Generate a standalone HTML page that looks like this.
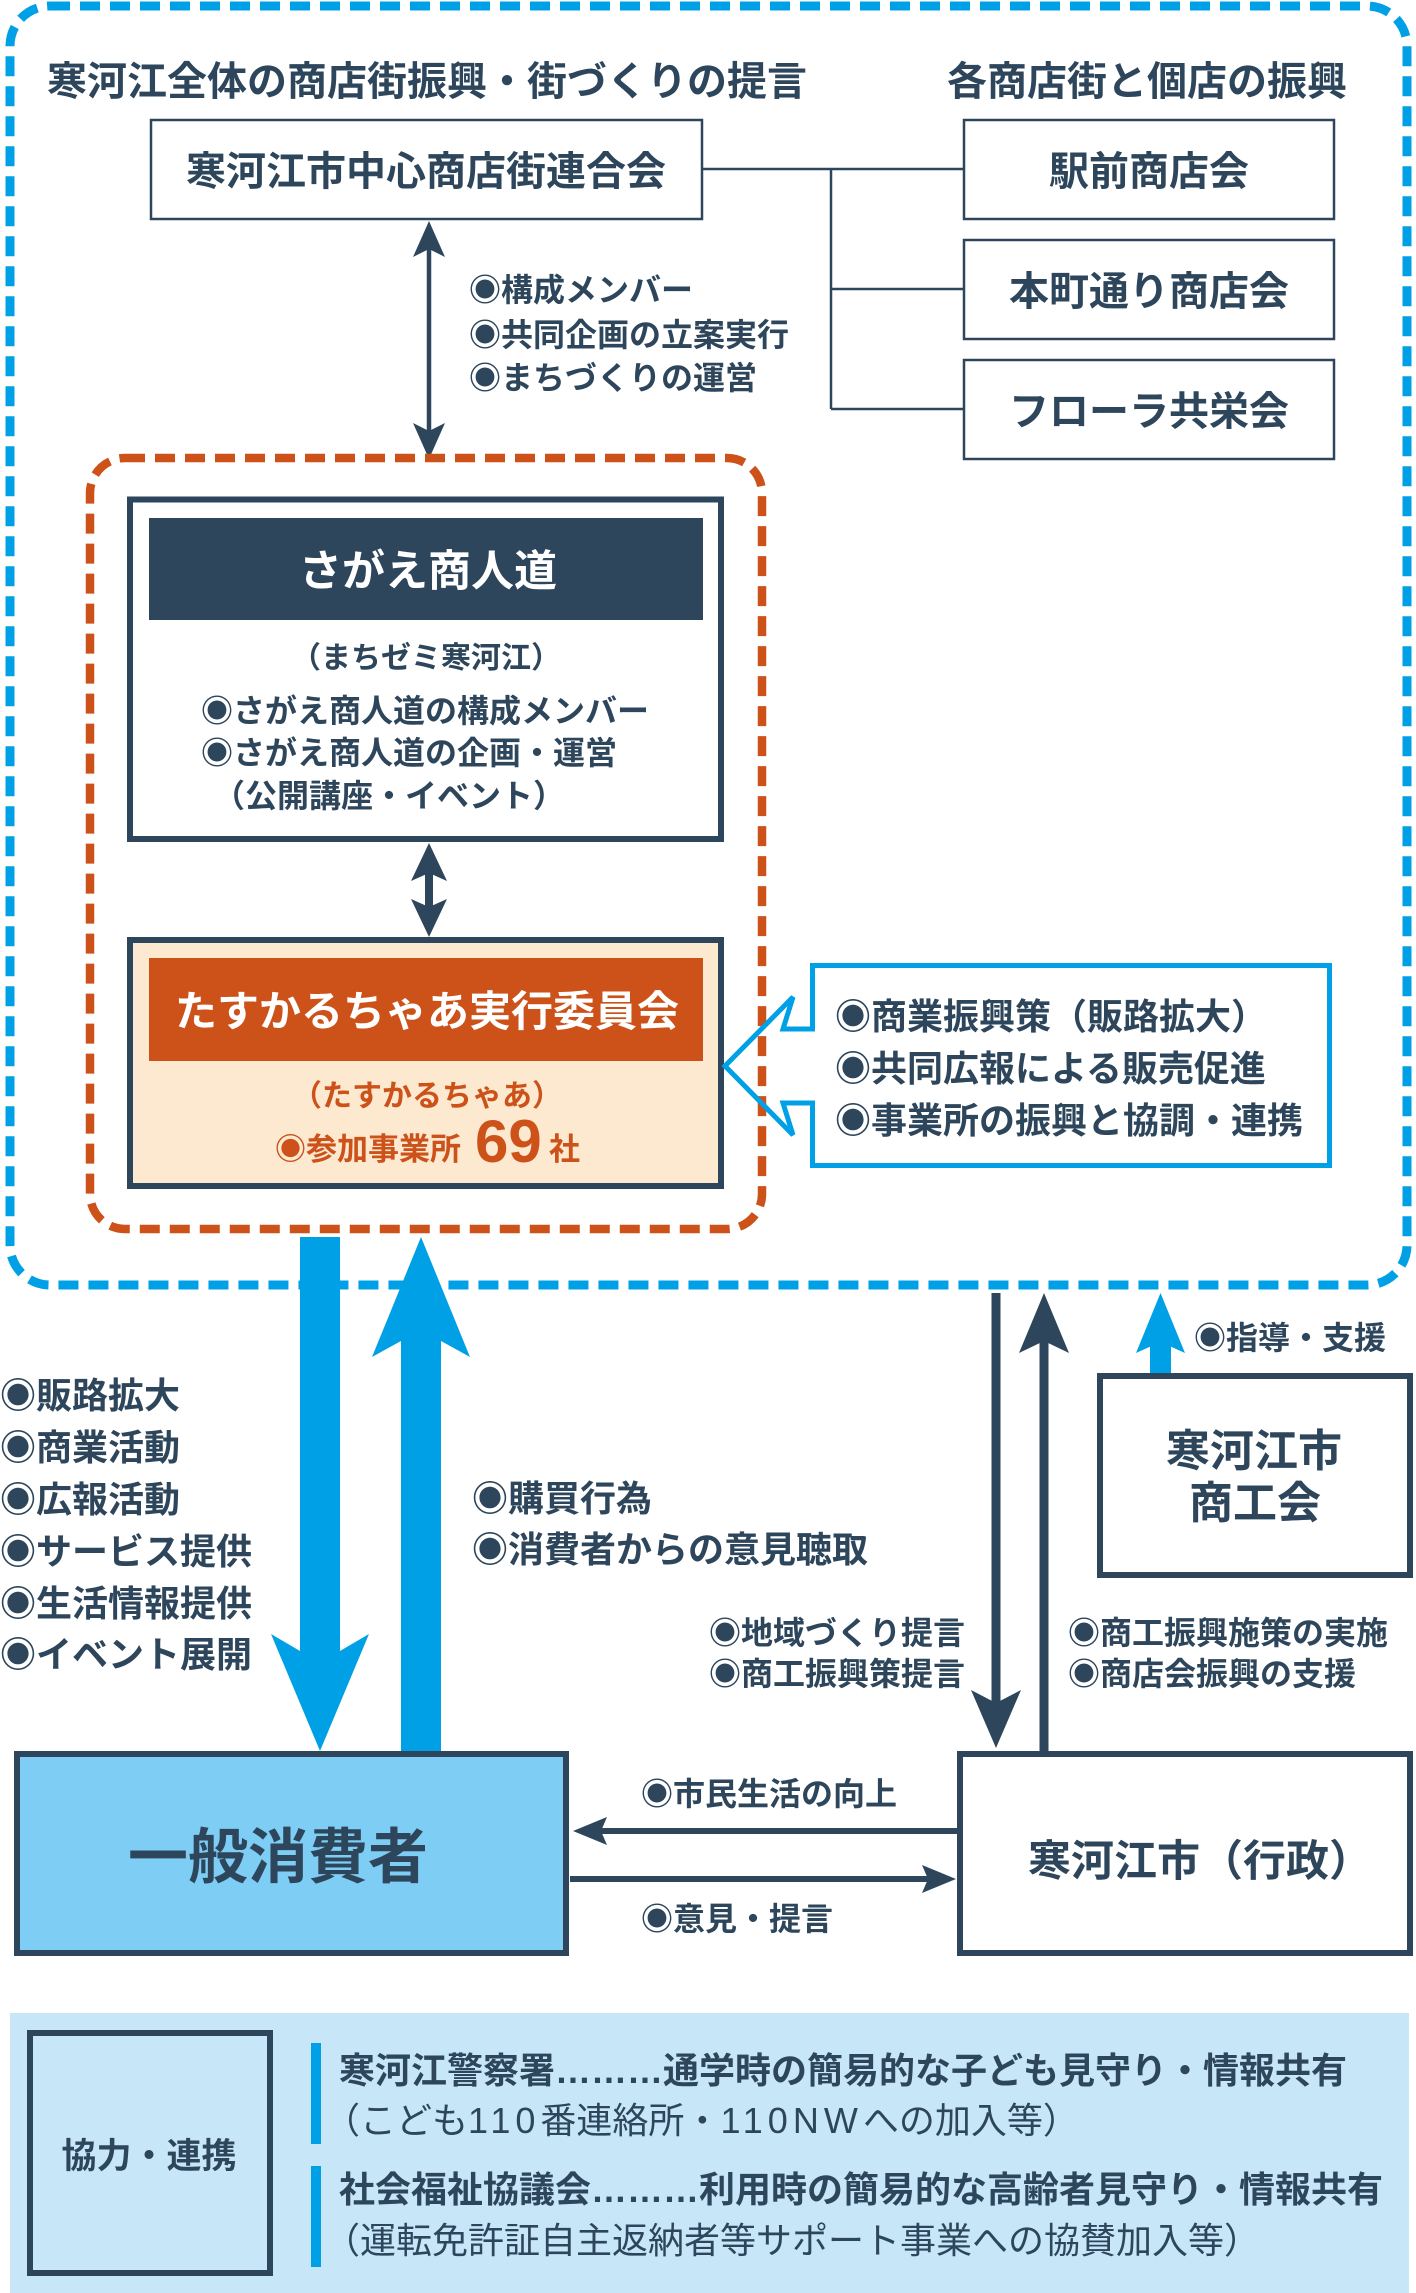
<!DOCTYPE html>
<html><head><meta charset="utf-8">
<style>
html,body{margin:0;padding:0;background:#fff;width:1416px;height:2293px;overflow:hidden}
svg{display:block}
text{font-family:"Liberation Sans","Noto Sans CJK JP",sans-serif;font-weight:bold;fill:#2e465b}
.w{fill:#fff}
.o{fill:#cc521a}
.r{font-weight:normal}
</style></head>
<body>
<svg width="1416" height="2293" viewBox="0 0 1416 2293" xmlns="http://www.w3.org/2000/svg">
<!-- outer blue dashed -->
<rect x="10" y="6" width="1397" height="1279" rx="40" fill="none" stroke="#00a0e6" stroke-width="9" stroke-dasharray="20 10"/>

<!-- headings -->
<text x="47" y="95" font-size="40">寒河江全体の商店街振興・街づくりの提言</text>
<text x="947" y="95" font-size="40">各商店街と個店の振興</text>

<!-- top boxes -->
<rect x="151" y="120" width="551" height="99" fill="#fff" stroke="#2e465b" stroke-width="2.5"/>
<text x="426" y="185" font-size="40" text-anchor="middle">寒河江市中心商店街連合会</text>
<rect x="964" y="120" width="370" height="99" fill="#fff" stroke="#2e465b" stroke-width="2.5"/>
<rect x="964" y="240" width="370" height="99" fill="#fff" stroke="#2e465b" stroke-width="2.5"/>
<rect x="964" y="360" width="370" height="99" fill="#fff" stroke="#2e465b" stroke-width="2.5"/>
<text x="1149" y="185" font-size="40" text-anchor="middle">駅前商店会</text>
<text x="1149" y="305" font-size="40" text-anchor="middle">本町通り商店会</text>
<text x="1149" y="425" font-size="40" text-anchor="middle">フローラ共栄会</text>
<path d="M702 169 H964 M831 169 V409 M831 289 H964 M831 409 H964" fill="none" stroke="#2e465b" stroke-width="2.5"/>

<!-- double arrow top -->
<line x1="429" y1="245" x2="429" y2="435" stroke="#2e465b" stroke-width="4.5"/>
<polygon points="429,221 445,257 429,249 413,257" fill="#2e465b"/>
<polygon points="429,459 445,423 429,431 413,423" fill="#2e465b"/>
<text x="469" y="301" font-size="32">◉構成メンバー</text>
<text x="469" y="346" font-size="32">◉共同企画の立案実行</text>
<text x="469" y="389" font-size="32">◉まちづくりの運営</text>

<!-- orange dashed -->
<rect x="90" y="458" width="672" height="771" rx="35" fill="none" stroke="#cc521a" stroke-width="8.5" stroke-dasharray="20 10"/>

<!-- sagae box -->
<rect x="130" y="499.5" width="591" height="339.5" fill="#fff" stroke="#2e465b" stroke-width="6"/>
<rect x="149" y="518" width="554" height="102" fill="#2e465b"/>
<text class="w" x="428" y="586" font-size="43" text-anchor="middle">さがえ商人道</text>
<text x="426" y="668" font-size="30" text-anchor="middle">（まちゼミ寒河江）</text>
<text x="201" y="722" font-size="32">◉さがえ商人道の構成メンバー</text>
<text x="201" y="764" font-size="32">◉さがえ商人道の企画・運営</text>
<text x="213" y="807" font-size="32">（公開講座・イベント）</text>

<!-- double arrow middle -->
<line x1="429" y1="870" x2="429" y2="910" stroke="#2e465b" stroke-width="8"/>
<polygon points="429,843 447,881 429,873 411,881" fill="#2e465b"/>
<polygon points="429,937 447,899 429,907 411,899" fill="#2e465b"/>

<!-- tasukaru box -->
<rect x="130" y="940" width="591" height="246" fill="#fce9d0" stroke="#2e465b" stroke-width="6"/>
<rect x="149" y="958" width="554" height="103" fill="#cc521a"/>
<text class="w" x="427" y="1026" font-size="42" text-anchor="middle">たすかるちゃあ実行委員会</text>
<text class="o" x="427" y="1106" font-size="30" text-anchor="middle">（たすかるちゃあ）</text>
<text class="o" x="275" y="1160" font-size="31">◉参加事業所</text>
<text class="o" x="475" y="1162" font-size="60" style="font-family:'Liberation Sans',sans-serif">69</text>
<text class="o" x="549" y="1160" font-size="31">社</text>

<!-- callout -->
<path d="M812.5 1029 V965.5 H1329.5 V1165.5 H812.5 V1103 H783 L793 1135 L725 1066 L793 997 L783 1029 Z" fill="none" stroke="#00a0e6" stroke-width="5"/>
<text x="835" y="1029" font-size="36">◉商業振興策（販路拡大）</text>
<text x="835" y="1081" font-size="36">◉共同広報による販売促進</text>
<text x="835" y="1133" font-size="36">◉事業所の振興と協調・連携</text>

<!-- big blue arrows -->
<path d="M300 1237 H340 V1651 L369 1634 L320 1751 L271 1634 L300 1651 Z" fill="#00a0e6"/>
<path d="M401 1751 V1341 L372 1357 L421 1237 L470 1357 L441 1341 V1751 Z" fill="#00a0e6"/>

<text x="0" y="1408" font-size="36">◉販路拡大</text>
<text x="0" y="1460" font-size="36">◉商業活動</text>
<text x="0" y="1512" font-size="36">◉広報活動</text>
<text x="0" y="1564" font-size="36">◉サービス提供</text>
<text x="0" y="1616" font-size="36">◉生活情報提供</text>
<text x="0" y="1667" font-size="36">◉イベント展開</text>
<text x="472" y="1511" font-size="36">◉購買行為</text>
<text x="472" y="1562" font-size="36">◉消費者からの意見聴取</text>

<!-- city arrows -->
<line x1="996" y1="1293" x2="996" y2="1706" stroke="#2e465b" stroke-width="9"/>
<polygon points="971,1690 996,1703 1021,1690 996,1748" fill="#2e465b"/>
<line x1="1044" y1="1340" x2="1044" y2="1751" stroke="#2e465b" stroke-width="9"/>
<polygon points="1044,1293 1069,1353 1044,1341 1019,1353" fill="#2e465b"/>
<rect x="1150" y="1338" width="21" height="37" fill="#00a0e6"/>
<polygon points="1160.5,1293 1185,1353 1160.5,1342 1136,1353" fill="#00a0e6"/>
<text x="1194" y="1349" font-size="32">◉指導・支援</text>

<text x="709" y="1644" font-size="32">◉地域づくり提言</text>
<text x="709" y="1685" font-size="32">◉商工振興策提言</text>
<text x="1068" y="1644" font-size="32">◉商工振興施策の実施</text>
<text x="1068" y="1685" font-size="32">◉商店会振興の支援</text>

<!-- shokokai -->
<rect x="1100" y="1376" width="310" height="199" fill="#fff" stroke="#2e465b" stroke-width="6"/>
<text x="1254" y="1466" font-size="44" text-anchor="middle">寒河江市</text>
<text x="1255" y="1518" font-size="44" text-anchor="middle">商工会</text>

<!-- consumer -->
<rect x="17" y="1754" width="549" height="199" fill="#7dcdf4" stroke="#2e465b" stroke-width="6"/>
<text x="278" y="1878" font-size="60" text-anchor="middle">一般消費者</text>

<!-- city -->
<rect x="960" y="1754" width="450" height="199" fill="#fff" stroke="#2e465b" stroke-width="6"/>
<text x="1200" y="1876" font-size="43" text-anchor="middle">寒河江市（行政）</text>

<!-- horizontal arrows -->
<line x1="600" y1="1831" x2="958" y2="1831" stroke="#2e465b" stroke-width="6"/>
<polygon points="573,1831 607,1817 601,1831 607,1845" fill="#2e465b"/>
<line x1="570" y1="1879" x2="928" y2="1879" stroke="#2e465b" stroke-width="6"/>
<polygon points="956,1879 922,1865 928,1879 922,1893" fill="#2e465b"/>
<text x="641" y="1805" font-size="32">◉市民生活の向上</text>
<text x="641" y="1930" font-size="32">◉意見・提言</text>

<!-- bottom panel -->
<rect x="10" y="2013" width="1399" height="280" fill="#c7e6f8"/>
<rect x="30" y="2033" width="240" height="240" fill="none" stroke="#2e465b" stroke-width="6"/>
<text x="149" y="2168" font-size="35" text-anchor="middle">協力・連携</text>
<rect x="311" y="2043" width="10" height="101" fill="#00a0e6"/>
<rect x="311" y="2166" width="10" height="101" fill="#00a0e6"/>
<text x="339" y="2083" font-size="36">寒河江警察署………通学時の簡易的な子ども見守り・情報共有</text>
<text class="r" x="324" y="2133" font-size="36">（こども<tspan letter-spacing="5">110</tspan>番連絡所・<tspan letter-spacing="5">110NW</tspan>への加入等）</text>
<text x="339" y="2202" font-size="36">社会福祉協議会………利用時の簡易的な高齢者見守り・情報共有</text>
<text class="r" x="324" y="2253" font-size="36">（運転免許証自主返納者等サポート事業への協賛加入等）</text>
</svg>
</body></html>
